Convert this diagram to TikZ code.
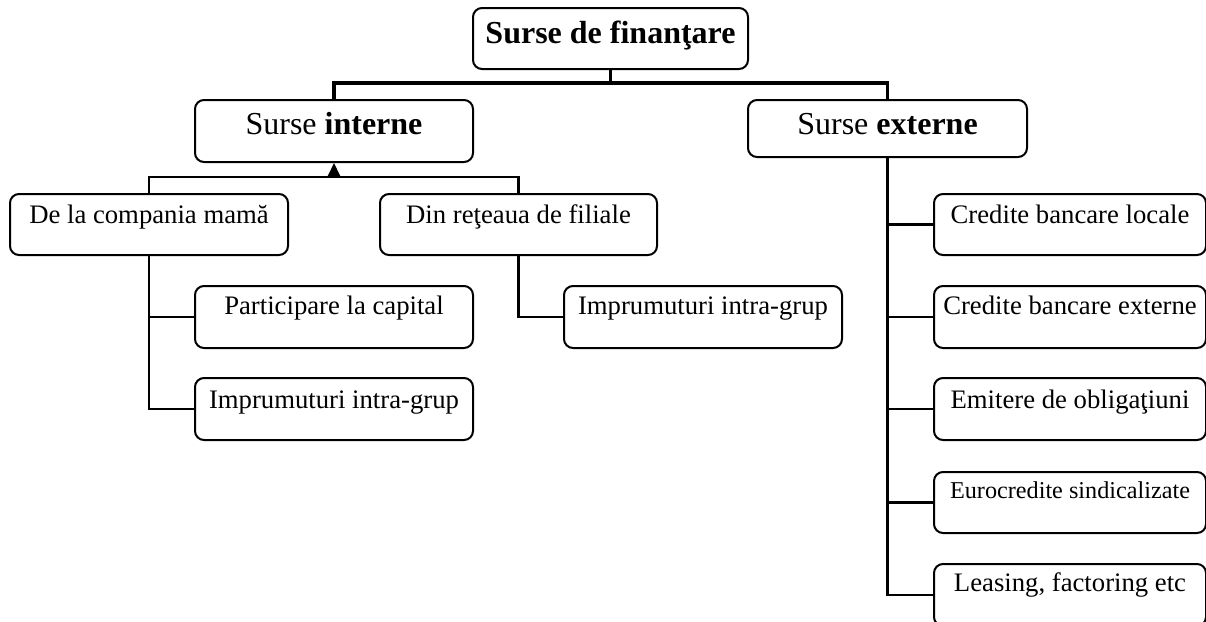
\documentclass[tikz,border=0pt]{standalone}
\usepackage{fontspec}
\setmainfont{Liberation Serif}
\usetikzlibrary{arrows.meta}
\newcommand{\fmain}{\fontsize{26.7pt}{30pt}\selectfont}
\newcommand{\fhead}{\fontsize{32pt}{36pt}\selectfont}
\newcommand{\fsmall}{\fontsize{24.2pt}{28pt}\selectfont}
\begin{document}
\begin{tikzpicture}[x=1pt,y=-1pt,
  box/.style={draw, rounded corners=9pt, line width=2pt, inner sep=0pt, anchor=north west, font=\fmain},
  conn/.style={line width=2.8pt, line cap=rect},
  bus/.style={line width=3.6pt}]
\useasboundingbox[fill=white] (0,0) rectangle (1206,621);
% level 0
\node[box, font=\fhead\bfseries, minimum width=275pt, text height=35pt, text depth=26pt] (top) at (472,7) {Surse de finanţare};
% level 1
\node[box, font=\fhead, minimum width=278pt, text height=34pt, text depth=28pt] (si) at (194,99) {Surse \textbf{interne}};
\node[box, font=\fhead, minimum width=279pt, text height=34pt, text depth=23pt] (se) at (747,99) {Surse \textbf{externe}};
% level 2 internal
\node[box, minimum width=278pt, text height=29pt, text depth=32pt] (dlc) at (9,193) {De la compania mamă};
\node[box, minimum width=277pt, text height=29pt, text depth=32pt] (drf) at (379,193) {Din reţeaua de filiale};
\node[box, minimum width=278pt, text height=28pt, text depth=34pt] (pc) at (194,285) {Participare la capital};
\node[box, minimum width=278pt, text height=30pt, text depth=32pt] (il) at (194,377) {Imprumuturi intra-grup};
\node[box, minimum width=278pt, text height=28pt, text depth=34pt] (ir) at (563,285) {Imprumuturi intra-grup};
% external column
\node[box, minimum width=272pt, text height=29pt, text depth=32pt] (e1) at (933,193) {Credite bancare locale};
\node[box, minimum width=272pt, text height=28pt, text depth=34pt] (e2) at (933,285) {Credite bancare externe};
\node[box, minimum width=272pt, text height=30pt, text depth=32pt] (e3) at (933,377) {Emitere de obligaţiuni};
\node[box, font=\fsmall, minimum width=272pt, text height=26pt, text depth=35pt] (e4) at (933,471) {Eurocredite sindicalizate};
\node[box, minimum width=272pt, text height=27pt, text depth=35pt] (e5) at (933,563) {Leasing, factoring etc};
% connectors
\coordinate (b0) at (top.south |- 0,83);
\draw[bus] (top.south) -- (b0);
\draw[bus] (si.north) |- (b0) -| (se.north);
\coordinate (b1) at (si.south |- 0,177);
\draw[conn] (dlc.north) |- (b1) -| (drf.north);
\draw[line width=2pt, -{Triangle[length=13pt,width=12pt]}] (b1) -- (si.south);
\draw[conn] (dlc.south) |- (pc.west);
\draw[conn] (dlc.south) |- (il.west);
\draw[conn] (drf.south) |- (ir.west);
\foreach \n in {e1,e2,e3,e4,e5} \draw[conn] (se.south) |- (\n.west);
\end{tikzpicture}
\end{document}
